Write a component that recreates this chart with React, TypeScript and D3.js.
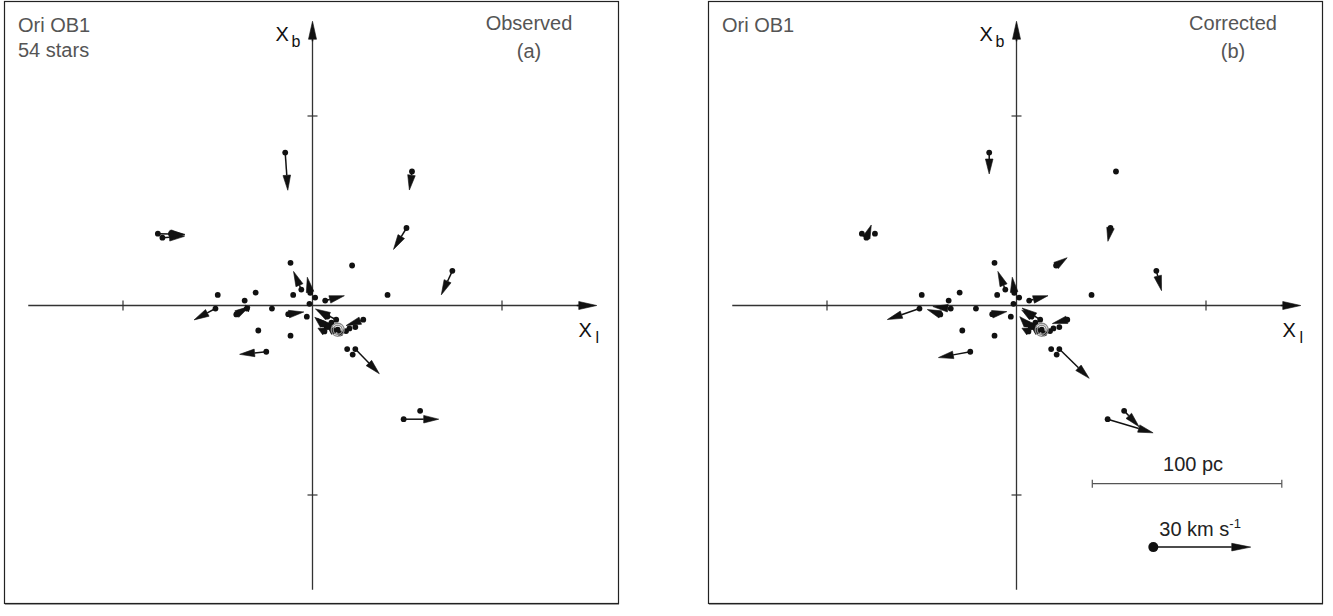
import React from "react";
import * as d3 from "d3";

// star positions in pc: [l, b]
const positions: [number, number][] = [
  [-14.4, 80.7], [52.5, 70.7], [49.6, 40.9], [73.8, 18.3],
  [-81.6, 37.9], [-79.2, 35.8], [-74.7, 37.9],
  [-11.6, 22.5], [-5.9, 8.4], [-1.2, 6.7], [-10.2, 5.6], [1.4, 4.2],
  [-1.6, 0.9], [6.7, 2.6], [20.9, 21.1], [39.6, 5.6], [-50, 5.6],
  [-30, 6.8], [-35.8, 2.6], [-51.2, -1.6], [-40.2, -4.7], [-34.7, -1.6],
  [-21.4, -1.6], [-12.8, -4.6], [-3, -5.9], [-28.6, -13.2], [-11.6, -15.9],
  [-24.4, -24.4], [18.3, -23], [22.6, -23], [21.2, -25.9], [56.8, -55.6],
  [48.1, -60], [12.5, -7.5], [8.9, -11.4], [26.8, -7.5], [22.6, -11.4],
  [13.3, -12.8], [6.3, -13.7], [17.7, -13.5], [7.9, -5.8], [10, -9],
  [7.4, -11], [14.7, -14.7], [19.5, -12.1], [5.5, -10], [11, -13.5],
];

// observed velocities, km/s: [vl, vb]
const observedV: [number, number][] = [
  [0.8, -11.6], [-0.8, -5.7], [-4.0, -6.6], [-3.4, -7.4],
  [8.3, -0.2], [6.8, 0.4], [4.3, -0.4],
  [0, 0], [-2.4, 5.6], [-0.9, 4.8], [0, 0], [0, 0],
  [0, 0], [5.9, 1.5], [0, 0], [0, 0], [0, 0],
  [0, 0], [0, 0], [-6.6, -3.5], [4.1, 2.5], [1, 0.5],
  [0, 0], [4.8, 0.7], [0, 0], [0, 0], [0, 0],
  [-8.2, -0.8], [0, 0], [7.4, -7.6], [0, 0], [0, 0],
  [10.8, 0], [-6.4, 3.3], [-3.7, 2.7], [-5.3, -1.8], [0, 0],
  [0, 0], [-2, 1], [0, 0], [-3.1, 1.8], [0, 0],
  [0, 0], [0, 0], [0, 0], [-2.5, 2.2], [-1.5, 0.8],
];

// corrected velocities, km/s: [vl, vb]
const correctedV: [number, number][] = [
  [0, -6.6], [0.1, -0.4], [-0.8, -4.1], [1.6, -6.1],
  [0.3, 0], [1.5, 3.9], [0.2, 0.1],
  [0, 0], [-2.3, 5.6], [-0.6, 4.8], [0, 0], [0, 0],
  [0, 0], [5.8, 1.5], [3.4, 2.4], [0, 0], [0, 0],
  [0, 0], [0, 0], [-9.9, -3.4], [-4.0, 1.5], [-5.5, 0.6],
  [0, 0], [4.5, 0.8], [0, 0], [0, 0], [0, 0],
  [-9.8, -1.8], [0, 0], [9.2, -9.0], [0, 0], [4.6, -4.9],
  [14.0, -4.2], [-5.6, 3.6], [-3.5, 2.5], [-4.6, -1.2], [0, 0],
  [0, 0], [-2, 1], [0, 0], [-3.0, 2.0], [0, 0],
  [0, 0], [0, 0], [0, 0], [-2.2, 2.4], [-1.4, 0.6],
];

const ringStar = 37;
const axisTicks = [-100, 100];
const axisExtent = 150;
const scaleBar = [40, 140]; // pc
const scaleBarB = -94;
const velKey = { l: 72.2, b: -127.5, v: 30 };

const FONT = "'Liberation Sans', Arial, Helvetica, sans-serif";

function arrowPaths(x0: number, y0: number, x1: number, y1: number, hl: number, hw: number) {
  const dx = x1 - x0, dy = y1 - y0;
  const L = Math.hypot(dx, dy);
  if (L < 1.5) return null;
  const ux = dx / L, uy = dy / L;
  const h = Math.min(hl, L);
  const bx = x1 - ux * h, by = y1 - uy * h;
  const px = -uy * hw, py = ux * hw;
  const line = L > h ? `M${x0},${y0}L${bx},${by}` : "";
  const head = `M${x1},${y1}L${bx + px},${by + py}L${bx - px},${by - py}Z`;
  return { line, head };
}

function Arrow({ x0, y0, x1, y1, hl = 15, hw = 3.8, color = "#111" }: any) {
  const p = arrowPaths(x0, y0, x1, y1, hl, hw);
  if (!p) return null;
  return (
    <g>
      {p.line && <path d={p.line} stroke={color} strokeWidth={1.5} fill="none" />}
      <path d={p.head} fill={color} stroke={color} strokeWidth={0.6} strokeLinejoin="round" />
    </g>
  );
}

function Panel({ cx, vel, lines, tag, showScale }: any) {
  const cy = 305.5;
  const half = 284.25;
  const x = d3.scaleLinear().domain([-axisExtent, axisExtent]).range([cx - half, cx + half]);
  const y = d3.scaleLinear().domain([-axisExtent, axisExtent]).range([cy + half, cy - half]);
  const v = d3.scaleLinear().domain([0, 30]).range([0, 97.4]);
  const left = cx - 308.5;
  const axisColor = "#333";

  return (
    <g fontFamily={FONT}>
      <rect x={left + 0.5} y={1.5} width={614} height={602} fill="#fff" stroke="#222" strokeWidth={1.2} />
      <line x1={left + 1} x2={left + 615} y1={604.5} y2={604.5} stroke="#999" strokeWidth={1} />

      {/* axes */}
      <line x1={x(-axisExtent)} x2={x(axisExtent) - 10} y1={y(0)} y2={y(0)} stroke={axisColor} strokeWidth={1.3} />
      <line x1={x(0)} x2={x(0)} y1={y(-axisExtent)} y2={y(axisExtent) + 10} stroke={axisColor} strokeWidth={1.3} />
      <Arrow x0={x(axisExtent) - 20} y0={y(0)} x1={x(axisExtent)} y1={y(0)} hl={18} hw={4} color="#111" />
      <Arrow x0={x(0)} y0={y(axisExtent) + 20} x1={x(0)} y1={y(axisExtent)} hl={18} hw={4} color="#111" />
      {axisTicks.map((t) => (
        <g key={t}>
          <line x1={x(t)} x2={x(t)} y1={y(0) - 5} y2={y(0) + 5} stroke={axisColor} strokeWidth={1.2} />
          <line x1={x(0) - 5} x2={x(0) + 5} y1={y(t)} y2={y(t)} stroke={axisColor} strokeWidth={1.2} />
        </g>
      ))}

      <text x={x(0) - 37} y={41} fontSize={20} fill="#111">X</text>
      <text x={x(0) - 21} y={47} fontSize={16} fill="#111">b</text>
      <text x={x(0) + 266} y={337} fontSize={20} fill="#111">X</text>
      <text x={x(0) + 283} y={343} fontSize={16} fill="#111">l</text>

      {lines.map((s: string, i: number) => (
        <text key={s} x={left + 14} y={31.5 + i * 25} fontSize={20} fill="#555">{s}</text>
      ))}
      {tag.map((s: string, i: number) => (
        <text key={s} x={left + 525} y={29.5 + i * 28.5} fontSize={20} fill="#555" textAnchor="middle">{s}</text>
      ))}

      {/* stars */}
      {positions.map(([l, b], i) => {
        const [vl, vb] = vel[i];
        const x0 = x(l), y0 = y(b);
        return (
          <g key={i}>
            <Arrow x0={x0} y0={y0} x1={x0 + v(vl)} y1={y0 - v(vb)} />
            <circle cx={x0} cy={y0} r={2.9} fill="#111" />
          </g>
        );
      })}
      <circle cx={x(positions[ringStar][0])} cy={y(positions[ringStar][1])} r={4.5} fill="none" stroke="#8a8a8a" strokeWidth={1.3} />
      <circle cx={x(positions[ringStar][0])} cy={y(positions[ringStar][1])} r={6.5} fill="none" stroke="#8a8a8a" strokeWidth={1.3} />

      {showScale && (
        <g>
          <line x1={x(scaleBar[0])} x2={x(scaleBar[1])} y1={y(scaleBarB)} y2={y(scaleBarB)} stroke="#555" strokeWidth={1.2} />
          {scaleBar.map((s) => (
            <line key={s} x1={x(s)} x2={x(s)} y1={y(scaleBarB) - 4} y2={y(scaleBarB) + 4} stroke="#555" strokeWidth={1.2} />
          ))}
          <text x={(x(scaleBar[0]) + x(scaleBar[1])) / 2 + 6} y={y(scaleBarB) - 12.5} fontSize={20} fill="#222" textAnchor="middle">100 pc</text>
          <Arrow x0={x(velKey.l)} y0={y(velKey.b)} x1={x(velKey.l) + v(velKey.v)} y1={y(velKey.b)} hl={19} hw={3.8} />
          <circle cx={x(velKey.l)} cy={y(velKey.b)} r={5} fill="#111" />
          <text x={x(velKey.l) + 6} y={y(velKey.b) - 11.5} fontSize={20} fill="#222">
            30 km s<tspan fontSize={13} dy={-8}>-1</tspan>
          </text>
        </g>
      )}
    </g>
  );
}

export default function App() {
  return (
    <div style={{ position: "absolute", left: 0, top: 0 }}>
      <svg width={1333} height={616} style={{ display: "block", background: "#fff" }}>
        <Panel cx={312.5} vel={observedV} lines={["Ori OB1", "54 stars"]} tag={["Observed", "(a)"]} showScale={false} />
        <Panel cx={1016.5} vel={correctedV} lines={["Ori OB1"]} tag={["Corrected", "(b)"]} showScale={true} />
      </svg>
    </div>
  );
}
